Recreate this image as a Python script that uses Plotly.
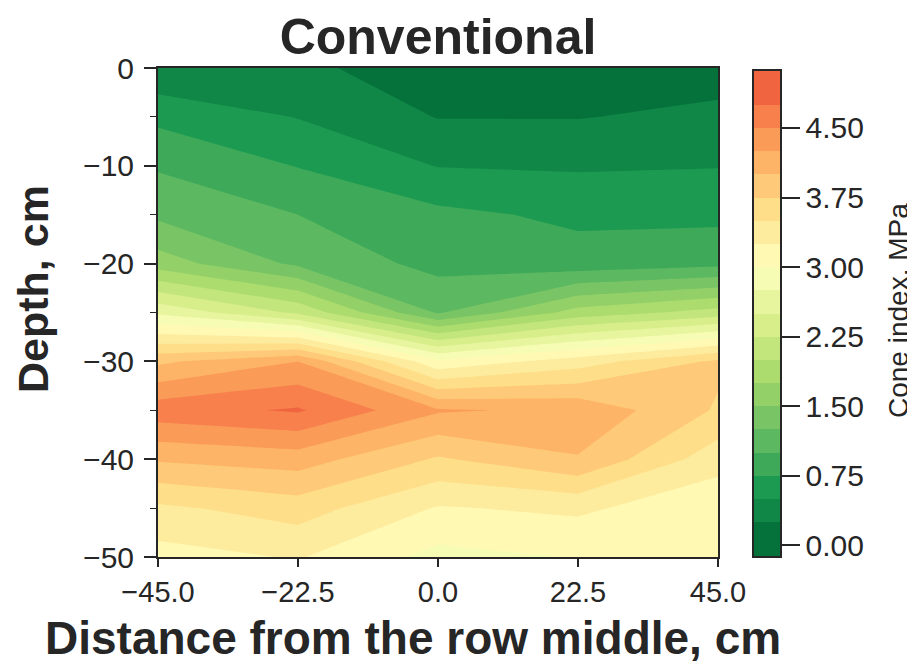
import plotly.graph_objects as go

# ---- data (cone index, MPa) ----
x_dist = [-45.0, -22.5, 0.0, 22.5, 45.0]
depths = [0, -5, -10, -15, -20, -25, -30, -35, -40, -45, -50]
ci_m45 = [0.28, 0.69, 0.97, 1.20, 1.62, 2.70, 3.95, 4.65, 4.03, 3.45, 3.15]
ci_m22 = [0.31, 0.49, 0.74, 1.00, 1.20, 2.20, 4.25, 4.78, 4.12, 3.62, 3.27]
ci_0 = [0.10, 0.24, 0.49, 0.81, 0.92, 1.22, 3.05, 4.28, 3.72, 3.23, 2.92]
ci_p22 = [0.10, 0.24, 0.47, 0.70, 0.85, 1.85, 3.38, 4.20, 3.98, 3.30, 3.01]
ci_p45 = [0.14, 0.31, 0.49, 0.69, 0.93, 2.10, 3.80, 3.72, 3.35, 3.07, 3.05]
cbar_ticks = [0.0, 0.75, 1.5, 2.25, 3.0, 3.75, 4.5]
x_ticks = [-45.0, -22.5, 0.0, 22.5, 45.0]
y_ticks = [0, -10, -20, -30, -40, -50]

z = [[ci_m45[i], ci_m22[i], ci_0[i], ci_p22[i], ci_p45[i]] for i in range(len(depths))]

# ---- colours: matplotlib RdYlGn_r, norm 0..6, 0.25 MPa bands ----
rdylgn = ["#a50026", "#d73027", "#f46d43", "#fdae61", "#fee08b", "#ffffbf",
          "#d9ef8b", "#a6d96a", "#66bd63", "#1a9850", "#006837"]


def hex2rgb(h):
    return tuple(int(h[i:i + 2], 16) for i in (1, 3, 5))


def cmap_r(t):
    t = 1.0 - min(max(t, 0.0), 1.0)
    p = t * (len(rdylgn) - 1)
    i = min(int(p), len(rdylgn) - 2)
    f = p - i
    a, b = hex2rgb(rdylgn[i]), hex2rgb(rdylgn[i + 1])
    return "rgb(%d,%d,%d)" % tuple(round(a[j] + (b[j] - a[j]) * f) for j in range(3))


start, end, step, vmax = 0.0, 5.0, 0.25, 6.0
nbands = int(round((end - start) / step))
nc = nbands + 1
band_cols = [cmap_r((start + (k + 0.5) * step) / vmax) for k in range(nbands)]
colorscale = [[0.0, band_cols[0]]]
for k in range(nbands):
    colorscale.append([(k + 1) / nc, band_cols[k]])
colorscale.append([1.0, band_cols[-1]])

txt = "#262626"
font_family = "Liberation Sans, Arial, sans-serif"

# page body adds an 8 px offset; figure sized/margined to compensate
W, H = 907, 656
L, T = 150, 60
PW, PH = 560, 489
R, B = W - L - PW, H - T - PH


def px_x(px):  # reference pixel -> paper x
    return (px - 8 - L) / PW


def px_y(py):  # reference pixel -> paper y
    return (T + PH - (py - 8)) / PH


fig = go.Figure(go.Contour(
    x=x_dist, y=depths, z=z,
    colorscale=colorscale,
    contours=dict(start=start, end=end, size=step, coloring="fill", showlines=False),
    line=dict(width=0, smoothing=0),
    colorbar=dict(
        thickness=28, thicknessmode="pixels",
        len=487, lenmode="pixels",
        x=px_x(753), xanchor="left", xpad=0,
        y=0, yanchor="bottom", ypad=0,
        outlinewidth=2, outlinecolor=txt,
        tickvals=cbar_ticks, ticktext=["%.2f" % v for v in cbar_ticks],
        ticks="outside", ticklen=18, tickwidth=1.5, tickcolor=txt,
        tickfont=dict(size=30, color=txt, family=font_family),
        title=dict(text=""),
    ),
    hoverinfo="skip",
))

fig.update_layout(
    width=W, height=H,
    margin=dict(l=L, r=R, t=T, b=B),
    paper_bgcolor="white", plot_bgcolor="white",
    font=dict(family=font_family, color=txt),
    title=dict(text="<b>Conventional</b>", x=(438 - 8) / W, xanchor="center",
               y=1 - (36 - 8) / H, yanchor="middle",
               font=dict(size=50, color=txt, family=font_family)),
    xaxis=dict(range=[-45, 45], tickvals=x_ticks,
               ticktext=[("\u2212%.1f" % -v) if v < 0 else "%.1f" % v for v in x_ticks],
               ticks="outside", ticklen=8, tickwidth=1.5, tickcolor=txt,
               showline=True, linewidth=2, linecolor=txt, mirror=True,
               showgrid=False, zeroline=False,
               tickfont=dict(size=29, color=txt)),
    yaxis=dict(range=[-50, 0], tickvals=y_ticks,
               ticktext=[("\u2212%d" % -v) if v < 0 else "%d" % v for v in y_ticks],
               ticks="outside", ticklen=12, tickwidth=1.5, tickcolor=txt,
               ticklabelstandoff=4,
               minor=dict(dtick=5, tick0=0, ticks="outside", ticklen=6, tickwidth=1.2, tickcolor=txt),
               showline=True, linewidth=2, linecolor=txt, mirror=True,
               showgrid=False, zeroline=False,
               tickfont=dict(size=30, color=txt)),
    annotations=[
        dict(text="<b>Distance from the row middle, cm</b>", xref="paper", yref="paper",
             x=px_x(413), y=px_y(638), xanchor="center", yanchor="middle",
             showarrow=False, font=dict(size=46, color=txt)),
        dict(text="<b>Depth, cm</b>", xref="paper", yref="paper",
             x=px_x(33), y=px_y(289), xanchor="center", yanchor="middle",
             textangle=-90, showarrow=False, font=dict(size=43, color=txt)),
        dict(text="Cone index, MPa", xref="paper", yref="paper",
             x=px_x(898), y=px_y(311), xanchor="center", yanchor="middle",
             textangle=-90, showarrow=False, font=dict(size=28, color=txt)),
    ],
)

fig.write_html("out.html")
